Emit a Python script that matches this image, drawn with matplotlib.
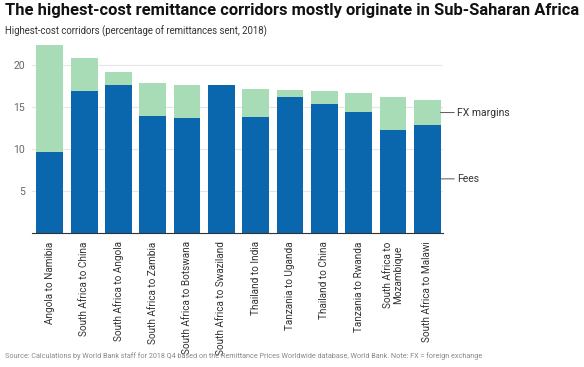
import matplotlib.pyplot as plt

plt.rcParams['font.family'] = ['Roboto', 'DejaVu Sans']

# data
corridors = ["Angola to Namibia", "South Africa to China", "South Africa to Angola",
             "South Africa to Zambia", "South Africa to Botswana", "South Africa to Swaziland",
             "Thailand to India", "Tanzania to Uganda", "Thailand to China",
             "Tanzania to Rwanda", "South Africa to\nMozambique", "South Africa to Malawi"]
fees = [9.7, 16.9, 17.6, 14.0, 13.7, 17.6, 13.8, 16.2, 15.4, 14.4, 12.3, 12.9]
totals = [22.4, 20.9, 19.2, 17.9, 17.6, 17.6, 17.1, 17.0, 16.9, 16.7, 16.2, 15.8]
fx = [t - f for t, f in zip(totals, fees)]

blue = "#0a66ad"
green = "#a8dcb6"

fig = plt.figure(figsize=(5.84, 3.67), dpi=100)
ax = fig.add_axes([32/584, 1 - 233/367, 411/584, 188/367])

x = list(range(len(corridors)))
ax.bar(x, fees, width=0.78, color=blue, zorder=2)
ax.bar(x, fx, bottom=fees, width=0.78, color=green, zorder=2)

ax.set_xlim(-0.52, len(corridors) - 0.54)
ax.set_ylim(0, 22.4)
ax.set_yticks([5, 10, 15, 20])
ax.yaxis.grid(True, color="#e6e6e6", linewidth=0.8, zorder=0)
ax.tick_params(axis="y", length=0, labelsize=7.5, labelcolor="#666666", pad=5)
ax.set_xticks(x)
ax.set_xticklabels(corridors, rotation=90, fontsize=7.2, color="#333333",
                   va="top", ha="center", linespacing=1.0)
ax.tick_params(axis="x", length=0, pad=6)
for s in ["top", "right", "left"]:
    ax.spines[s].set_visible(False)
ax.spines["bottom"].set_color("#333333")
ax.spines["bottom"].set_linewidth(0.8)

# right side labels for the last bar
last = len(corridors) - 1
for yv, txt in [(fees[last] + fx[last] / 2, "FX margins"), (fees[last] / 2, "Fees")]:
    ax.annotate(txt, xy=(last + 0.39, yv), xytext=(last + 0.87, yv),
                textcoords="data", va="center", ha="left", fontsize=7.5, color="#333333",
                arrowprops=dict(arrowstyle="-", color="#555555", lw=0.7,
                                shrinkA=0, shrinkB=0),
                annotation_clip=False)

fig.text(5/584, 1 - 11/367, "The highest-cost remittance corridors mostly originate in Sub-Saharan Africa",
         fontsize=11.9, fontweight="bold", color="#111111", va="center", ha="left")
fig.text(5/584, 1 - 31/367, "Highest-cost corridors (percentage of remittances sent, 2018)",
         fontsize=6.9, color="#333333", va="center", ha="left")
fig.text(5/584, 1 - 356/367,
         "Source: Calculations by World Bank staff for 2018 Q4 based on the Remittance Prices Worldwide database, World Bank. Note: FX = foreign exchange",
         fontsize=5.2, color="#888888", va="center", ha="left")

fig.savefig("out.png", dpi=100)
